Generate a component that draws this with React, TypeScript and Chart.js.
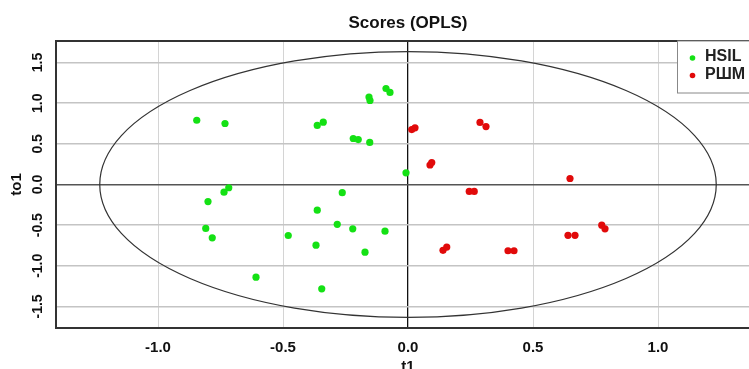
import React, { useEffect, useRef } from "react";
import { Chart, registerables } from "chart.js";

Chart.register(...registerables);

const FONT = "'Liberation Sans', Arial, sans-serif";

const seriesLabels = ["HSIL", "РШМ"];
const seriesColors = ["rgb(20,225,20)", "rgb(225,10,10)"];

const hsilX = [-0.845, -0.732, -0.736, -0.717, -0.8, -0.809, -0.783, -0.479, -0.608, -0.088, -0.072, -0.156, -0.152, -0.363, -0.339, -0.219, -0.199, -0.153, -0.008, -0.263, -0.363, -0.283, -0.221, -0.092, -0.368, -0.172, -0.345];
const hsilY = [0.79, 0.75, -0.095, -0.04, -0.21, -0.54, -0.656, -0.627, -1.14, 1.181, 1.132, 1.076, 1.033, 0.726, 0.766, 0.566, 0.553, 0.517, 0.144, -0.1, -0.316, -0.49, -0.545, -0.574, -0.746, -0.832, -1.283];

const rshmX = [0.015, 0.028, 0.088, 0.095, 0.288, 0.312, 0.648, 0.245, 0.265, 0.14, 0.155, 0.4, 0.424, 0.64, 0.668, 0.775, 0.788];
const rshmY = [0.676, 0.697, 0.24, 0.27, 0.763, 0.713, 0.074, -0.085, -0.085, -0.81, -0.77, -0.815, -0.815, -0.625, -0.625, -0.5, -0.545];

const xTicks = [-1.0, -0.5, 0.0, 0.5, 1.0];
const yTicks = [-1.5, -1.0, -0.5, 0.0, 0.5, 1.0, 1.5];
const xRange = [-1.408, 1.408];
const yRange = [-1.765, 1.765];
const ellipseAxes = [1.233, 1.635];

const W = 790;
const H = 380;

const decorPlugin = {
  id: "decor",
  beforeDatasetsDraw(chart: any) {
    const { ctx, chartArea, scales } = chart;
    const xs = scales.x;
    const ys = scales.y;
    const cx = xs.getPixelForValue(0);
    const cy = ys.getPixelForValue(0);
    const rx = xs.getPixelForValue(ellipseAxes[0]) - cx;
    const ry = cy - ys.getPixelForValue(ellipseAxes[1]);
    ctx.save();
    ctx.beginPath();
    ctx.rect(chartArea.left, chartArea.top, chartArea.right - chartArea.left, chartArea.bottom - chartArea.top);
    ctx.clip();
    ctx.beginPath();
    ctx.ellipse(cx, cy, rx, ry, 0, 0, Math.PI * 2);
    ctx.strokeStyle = "#333";
    ctx.lineWidth = 1.2;
    ctx.stroke();
    ctx.restore();
  },
  afterDatasetsDraw(chart: any) {
    const { ctx, chartArea, scales } = chart;
    const ys = scales.y;
    ctx.save();
    // frame
    ctx.strokeStyle = "#333";
    ctx.lineWidth = 2;
    ctx.strokeRect(chartArea.left, chartArea.top, chartArea.right - chartArea.left, chartArea.bottom - chartArea.top);
    // y tick labels, rotated
    ctx.fillStyle = "#111";
    ctx.font = `bold 14px ${FONT}`;
    ctx.textAlign = "center";
    ctx.textBaseline = "middle";
    for (const t of ys.ticks) {
      const py = ys.getPixelForValue(t.value);
      ctx.save();
      ctx.translate(chartArea.left - 18, py);
      ctx.rotate(-Math.PI / 2);
      ctx.fillText(Number(t.value).toFixed(1), 0, 0);
      ctx.restore();
    }
    // legend
    const lw = 83;
    const lx = chartArea.right - lw;
    const ly = chartArea.top;
    ctx.fillStyle = "#fff";
    ctx.fillRect(lx, ly, lw, 52);
    ctx.strokeStyle = "#888";
    ctx.lineWidth = 1;
    ctx.strokeRect(lx + 0.5, ly, lw, 52);
    chart.data.datasets.forEach((ds: any, i: number) => {
      const yy = ly + 17 + i * 17.5;
      ctx.beginPath();
      ctx.arc(lx + 15.5, yy, 2.8, 0, Math.PI * 2);
      ctx.fillStyle = ds.backgroundColor;
      ctx.fill();
      ctx.fillStyle = "#222";
      ctx.font = `bold 16px ${FONT}`;
      ctx.textAlign = "left";
      ctx.textBaseline = "middle";
      ctx.fillText(ds.label, lx + 28, yy - 1);
    });
    ctx.restore();
  },
};

export default function App() {
  const ref = useRef<HTMLCanvasElement | null>(null);

  useEffect(() => {
    if (!ref.current) return;
    const mk = (xa: number[], ya: number[]) => xa.map((x, i) => ({ x, y: ya[i] }));
    const chart = new Chart(ref.current, {
      type: "scatter",
      data: {
        datasets: [
          {
            label: seriesLabels[0],
            data: mk(hsilX, hsilY),
            backgroundColor: seriesColors[0],
            borderWidth: 0,
            pointRadius: 3.6,
            pointHoverRadius: 3.6,
          },
          {
            label: seriesLabels[1],
            data: mk(rshmX, rshmY),
            backgroundColor: seriesColors[1],
            borderWidth: 0,
            pointRadius: 3.6,
            pointHoverRadius: 3.6,
          },
        ],
      },
      options: {
        animation: false,
        responsive: false,
        devicePixelRatio: 1,
        events: [],
        layout: { padding: { left: 0, right: W - 760, top: 0, bottom: 0 } },
        plugins: {
          legend: { display: false },
          tooltip: { enabled: false },
          title: {
            display: true,
            text: "Scores (OPLS)",
            fullSize: false,
            color: "#111",
            font: { family: FONT, size: 17, weight: "bold" },
            padding: { top: 13, bottom: 7.6 },
          },
        },
        scales: {
          x: {
            type: "linear",
            min: xRange[0],
            max: xRange[1],
            afterBuildTicks: (s: any) => {
              s.ticks = xTicks.map((v) => ({ value: v }));
            },
            afterFit: (s: any) => {
              s.height = H - 328;
            },
            border: { display: false },
            grid: {
              drawTicks: false,
              color: (c: any) => (c.tick && c.tick.value === 0 ? "#111" : "#d4d4d4"),
              lineWidth: (c: any) => (c.tick && c.tick.value === 0 ? 1.3 : 1),
            },
            ticks: {
              padding: 11,
              autoSkip: false,
              maxRotation: 0,
              color: "#111",
              font: { family: FONT, size: 15, weight: "bold" },
              callback: (v: any) => Number(v).toFixed(1),
            },
            title: {
              display: true,
              text: "t1",
              color: "#111",
              font: { family: FONT, size: 15, weight: "bold" },
              padding: { top: 0, bottom: 4 },
            },
          },
          y: {
            type: "linear",
            min: yRange[0],
            max: yRange[1],
            afterBuildTicks: (s: any) => {
              s.ticks = yTicks.map((v) => ({ value: v }));
            },
            afterFit: (s: any) => {
              s.width = 56;
            },
            border: { display: false },
            grid: {
              drawTicks: false,
              color: (c: any) => (c.tick && c.tick.value === 0 ? "#555" : "#c4c4c4"),
              lineWidth: (c: any) => (c.tick && c.tick.value === 0 ? 1.6 : 1.4),
            },
            ticks: { display: false },
            title: {
              display: true,
              text: "to1",
              color: "#111",
              font: { family: FONT, size: 15, weight: "bold" },
              padding: { top: 8, bottom: 0 },
            },
          },
        },
      },
      plugins: [decorPlugin],
    } as any);
    return () => chart.destroy();
  }, []);

  return (
    <div style={{ position: "absolute", left: 0, top: 0, width: 749, height: 369, overflow: "hidden", background: "#fff" }}>
      <canvas ref={ref} width={W} height={H} style={{ display: "block", width: W, height: H }} />
    </div>
  );
}
